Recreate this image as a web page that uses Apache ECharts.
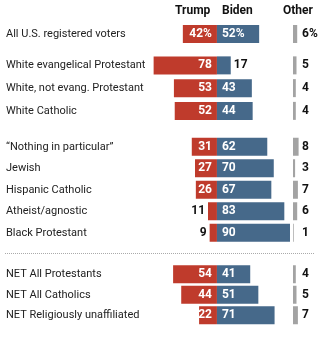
<!DOCTYPE html>
<html><head><meta charset="utf-8">
<script src="https://cdn.jsdelivr.net/npm/echarts@6/dist/echarts.min.js"></script>
<style>html,body{margin:0;padding:0;background:#fff}#c{width:321px;height:337px}</style>
</head><body><div id="c"></div>
<script>
const categories = ["All U.S. registered voters", "White evangelical Protestant", "White, not evang. Protestant", "White Catholic", "\u201cNothing in particular\u201d", "Jewish", "Hispanic Catholic", "Atheist/agnostic", "Black Protestant", "NET All Protestants", "NET All Catholics", "NET Religiously unaffiliated"];
const trump = [42, 78, 53, 52, 31, 27, 26, 11, 9, 54, 44, 22];
const biden = [52, 17, 43, 44, 62, 70, 67, 83, 90, 41, 51, 71];
const other = [6, 5, 4, 4, 8, 3, 7, 6, 1, 4, 5, 7];
const groupSizes = [1, 3, 5, 3];
const headers = ["Trump", "Biden", "Other"];

const FONT = "Roboto";
const RED = "#bf3b2c", BLUE = "#46698a", GRAY = "#a3a3a3";
const layout = [{top: 23, rowH: 22}, {top: 54, rowH: 22.75}, {top: 136, rowH: 21.5}, {top: 264, rowH: 20.5}];
const mainLeft = 152, mainWidth = 138, otherLeft = 293, otherWidth = 7;
const NUMSIZE = 12;

const grid = [], xAxis = [], yAxis = [], series = [];
let start = 0;
groupSizes.forEach((n, g) => {
  const cats = categories.slice(start, start + n);
  const t = trump.slice(start, start + n);
  const b = biden.slice(start, start + n);
  const o = other.slice(start, start + n);
  const pct = g === 0 ? "%" : "";
  const top = layout[g].top, h = layout[g].rowH * n;
  grid.push({left: mainLeft, width: mainWidth, top: top, height: h});
  grid.push({left: otherLeft, width: otherWidth, top: top, height: h});
  xAxis.push({gridIndex: 2*g, type: "value", min: -80, max: 90, show: false});
  xAxis.push({gridIndex: 2*g+1, type: "value", min: 0, max: 10, show: false});
  yAxis.push({gridIndex: 2*g, type: "category", inverse: true, data: cats,
    axisLine: {show: false}, axisTick: {show: false}, splitLine: {show: false},
    axisLabel: {align: "left", margin: mainLeft - 6, fontFamily: FONT, fontSize: 11, color: "#222"}});
  yAxis.push({gridIndex: 2*g+1, type: "category", inverse: true, position: "right", data: o.map(v => v + pct),
    axisLine: {show: false}, axisTick: {show: false}, splitLine: {show: false},
    axisLabel: {margin: 2, fontFamily: FONT, fontSize: NUMSIZE, fontWeight: "bold", color: "#111"}});
  series.push({type: "bar", xAxisIndex: 2*g, yAxisIndex: 2*g, stack: "s" + g, barWidth: 18,
    itemStyle: {color: RED},
    data: t.map(v => ({value: -v, label: v >= 15
      ? {show: true, position: "insideRight", distance: 5, color: "#fff"}
      : {show: true, position: "left", distance: 3, color: "#111"}})),
    label: {fontFamily: FONT, fontSize: NUMSIZE, fontWeight: "bold", formatter: p => Math.abs(p.value) + pct}});
  series.push({type: "bar", xAxisIndex: 2*g, yAxisIndex: 2*g, stack: "s" + g, barWidth: 18,
    itemStyle: {color: BLUE},
    data: b.map(v => ({value: v, label: v >= 20
      ? {show: true, position: "insideLeft", distance: 5, color: "#fff"}
      : {show: true, position: "right", distance: 3, color: "#111"}})),
    label: {fontFamily: FONT, fontSize: NUMSIZE, fontWeight: "bold", formatter: p => p.value + pct}});
  series.push({type: "bar", xAxisIndex: 2*g+1, yAxisIndex: 2*g+1, barWidth: 18,
    itemStyle: {color: GRAY}, data: o});
  start += n;
});

const chart = echarts.init(document.getElementById("c"), null, {renderer: "canvas"});
chart.setOption({
  animation: false,
  grid, xAxis, yAxis, series,
  graphic: [
    {type: "text", left: 175, top: 5, style: {text: headers[0], font: "bold 12px " + FONT, fill: "#111"}},
    {type: "text", left: 222, top: 5, style: {text: headers[1], font: "bold 12px " + FONT, fill: "#111"}},
    {type: "text", left: 283, top: 5, style: {text: headers[2], font: "bold 12px " + FONT, fill: "#111"}},
    {type: "line", shape: {x1: 5, y1: 253.5, x2: 315, y2: 253.5}, style: {stroke: "#aaa", lineWidth: 1, lineDash: [1, 1]}}
  ]
});
</script></body></html>
